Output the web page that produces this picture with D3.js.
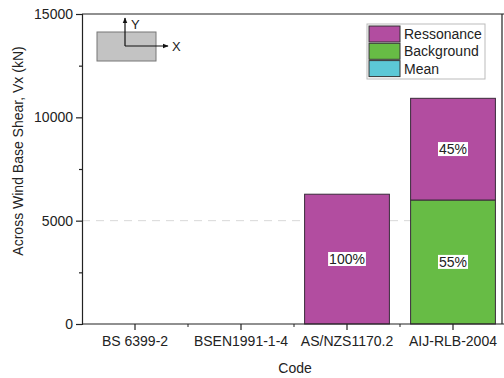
<!DOCTYPE html>
<html>
<head>
<meta charset="utf-8">
<script src="https://cdn.jsdelivr.net/npm/d3@7"></script>
<style>
  body{margin:0;background:#fff;}
  text{font-family:"Liberation Sans",Arial,sans-serif;fill:#222;}
</style>
</head>
<body>
<div id="stage"></div>
<script>
// data
var codes=["BS 6399-2","BSEN1991-1-4","AS/NZS1170.2","AIJ-RLB-2004"];
var mean=[0,0,0,0];
var background=[0,0,0,6000];
var resonance=[0,0,6280,4920];
var pctLabels=[
  {code:"AS/NZS1170.2",series:"resonance",text:"100%"},
  {code:"AIJ-RLB-2004",series:"resonance",text:"45%"},
  {code:"AIJ-RLB-2004",series:"background",text:"55%"}
];
var yTicks=[0,5000,10000,15000];
var yMinor=[2500,7500,12500];

var colours={resonance:"#b24da0",background:"#67bc45",mean:"#5cc8d6"};

var W=504,H=378;
var pLeft=82,pRight=506,pTop=14,pBottom=324,frameR=502;

var svg=d3.select("#stage").append("svg")
  .attr("width",W).attr("height",H);

var x=d3.scaleBand().domain(codes).range([pLeft,pRight]).paddingInner(0.2).paddingOuter(0.1);
var y=d3.scaleLinear().domain([0,15000]).range([pBottom,pTop]);

// reference line at 5000
svg.append("line")
  .attr("x1",pLeft).attr("x2",frameR)
  .attr("y1",y(5000)).attr("y2",y(5000))
  .attr("stroke","#d8d8d8").attr("stroke-dasharray","8,6").attr("stroke-width",1);

// stacked bars
var rows=codes.map(function(c,i){
  return {code:c,mean:mean[i],background:background[i],resonance:resonance[i]};
});
var stack=d3.stack().keys(["mean","background","resonance"]);
var layers=stack(rows);

svg.selectAll("g.layer")
  .data(layers)
  .enter().append("g")
  .attr("class","layer")
  .attr("fill",function(d){return colours[d.key]})
  .selectAll("rect")
  .data(function(d){return d.filter(function(s){return s[1]-s[0]>0})})
  .enter().append("rect")
  .attr("x",function(d){return x(d.data.code)})
  .attr("width",x.bandwidth())
  .attr("y",function(d){return y(d[1])})
  .attr("height",function(d){return y(d[0])-y(d[1])})
  .attr("stroke","#3a2a3a").attr("stroke-width",1);

// percent labels, centred in their segment
var lab=svg.selectAll("g.pct")
  .data(pctLabels)
  .enter().append("g")
  .attr("class","pct")
  .attr("transform",function(d){
    var layer=layers.filter(function(l){return l.key==d.series})[0];
    var seg=layer[codes.indexOf(d.code)];
    var cy=(y(seg[0])+y(seg[1]))/2;
    return "translate("+(x(d.code)+x.bandwidth()/2)+","+cy+")";
  });
lab.append("rect")
  .attr("fill","#fff");
lab.append("text")
  .attr("text-anchor","middle").attr("dy","0.35em")
  .style("font-size","14px")
  .text(function(d){return d.text});
lab.each(function(){
  var g=d3.select(this);
  var b=g.select("text").node().getBBox();
  g.select("rect").attr("x",b.x-1).attr("y",b.y+1).attr("width",b.width+2).attr("height",b.height-2);
});

// frame top / right
svg.append("line").attr("x1",pLeft).attr("x2",W).attr("y1",pTop).attr("y2",pTop)
  .attr("stroke","#222").attr("stroke-width",1.2);
svg.append("line").attr("x1",frameR).attr("x2",frameR).attr("y1",pTop).attr("y2",pBottom)
  .attr("stroke","#222").attr("stroke-width",1.2);

// y axis
svg.append("g")
  .attr("transform","translate("+pLeft+",0)")
  .call(d3.axisLeft(y).tickValues(yTicks).tickSize(6).tickPadding(3).tickFormat(d3.format("d")));
svg.append("g")
  .attr("transform","translate("+pLeft+",0)")
  .call(d3.axisLeft(y).tickValues(yMinor).tickSize(3).tickFormat(""))
  .select(".domain").remove();

// x axis
svg.append("g")
  .attr("class","xaxis")
  .attr("transform","translate(0,"+pBottom+")")
  .call(d3.axisBottom(x).tickSize(6).tickPadding(6));
svg.select(".xaxis .domain").attr("d","M"+pLeft+",0H"+W);
var xMinor=d3.range(1,codes.length).map(function(i){return pLeft+(pRight-pLeft)*i/codes.length});
svg.append("g").selectAll("line")
  .data(xMinor).enter().append("line")
  .attr("x1",function(d){return d}).attr("x2",function(d){return d})
  .attr("y1",pBottom).attr("y2",pBottom+3)
  .attr("stroke","#222");

svg.selectAll(".domain,.tick line").attr("stroke","#222").attr("stroke-width",1.2);
svg.selectAll(".tick text").style("font-size","14px").attr("fill","#222");

// axis titles
svg.append("text")
  .attr("transform","translate(23,151) rotate(-90)")
  .attr("text-anchor","middle")
  .style("font-size","14px")
  .text("Across Wind Base Shear, Vx (kN)");
svg.append("text")
  .attr("x",295).attr("y",373)
  .attr("text-anchor","middle")
  .style("font-size","14px")
  .text("Code");

// legend
var legKeys=["resonance","background","mean"];
var legNames=["Ressonance","Background","Mean"];
var leg=svg.append("g").attr("transform","translate(367,24)");
leg.append("rect").attr("width",118).attr("height",55)
  .attr("fill","#fff").attr("stroke","#bbb");
var li=leg.selectAll("g.item").data(legKeys).enter().append("g")
  .attr("transform",function(d,i){return "translate(2,"+(2+i*17.3)+")"});
li.append("rect").attr("width",31).attr("height",16)
  .attr("fill",function(d){return colours[d]}).attr("stroke","#333");
li.append("text").attr("x",35).attr("y",8).attr("dy","0.35em")
  .style("font-size","14px")
  .text(function(d,i){return legNames[i]});

// inset sketch of the section
var ins=svg.append("g");
ins.append("rect").attr("x",97).attr("y",32).attr("width",59).attr("height",29)
  .attr("fill","#c3c3c3").attr("stroke","#777").attr("stroke-width",1);
svg.append("defs").append("marker")
  .attr("id","ah").attr("viewBox","0 0 10 10").attr("refX",9).attr("refY",5)
  .attr("markerWidth",5).attr("markerHeight",5).attr("orient","auto")
  .append("path").attr("d","M0,1L10,5L0,9Z").attr("fill","#111");
ins.append("line").attr("x1",125).attr("y1",46).attr("x2",125).attr("y2",18)
  .attr("stroke","#111").attr("stroke-width",1.2).attr("marker-end","url(#ah)");
ins.append("line").attr("x1",125).attr("y1",46).attr("x2",168).attr("y2",46)
  .attr("stroke","#111").attr("stroke-width",1.2).attr("marker-end","url(#ah)");
ins.append("text").attr("x",131).attr("y",29).style("font-size","13px").text("Y");
ins.append("text").attr("x",172).attr("y",51).style("font-size","13px").text("X");
</script>
</body>
</html>
